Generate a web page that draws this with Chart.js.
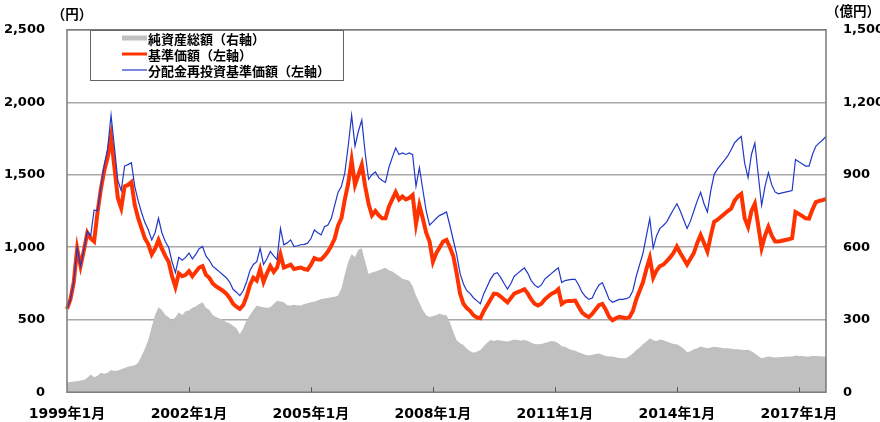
<!DOCTYPE html>
<html lang="ja">
<head>
<meta charset="utf-8">
<script src="https://cdn.jsdelivr.net/npm/chart.js@4.4.1/dist/chart.umd.min.js"></script>
<style>
  body { margin: 0; background: #fff; }
  #wrap { width: 880px; height: 422px; }
</style>
</head>
<body>
<div id="wrap"><canvas id="fund-chart" width="880" height="422"></canvas></div>
<script>
// 月次ラベル 1999年1月 ～ 2017年9月
var startYear = 1999;
var nMonths = 225;
var monthLabels = [];
for (var i = 0; i < nMonths; i++) {
    monthLabels.push((startYear + Math.floor(i / 12)) + '年' + (i % 12 + 1) + '月');
}

// 基準価額（左軸・円）
var navValues = [
    575, 640, 760, 990, 870, 980, 1100, 1060, 1040, 1240, 1400, 1530,      // 1999
    1620, 1760, 1550, 1340, 1270, 1420, 1430, 1450, 1290, 1200, 1130, 1060, // 2000
    1020, 950, 990, 1050, 990, 940, 900, 800, 725, 820, 800, 810,          // 2001
    835, 800, 830, 860, 870, 810, 790, 750, 730, 715, 700, 680,            // 2002
    650, 610, 590, 575, 600, 660, 740, 790, 770, 850, 760, 820,            // 2003
    870, 830, 860, 950, 860, 870, 880, 850, 855, 860, 850, 845,            // 2004
    880, 925, 915, 915, 940, 970, 1010, 1060, 1150, 1200, 1330, 1440,      // 2005
    1600, 1430, 1500, 1570, 1420, 1300, 1220, 1250, 1220, 1200, 1200, 1280, // 2006
    1330, 1380, 1330, 1350, 1330, 1340, 1360, 1160, 1290, 1200, 1100, 1040, // 2007
    900, 960, 1000, 1040, 1051, 1000, 940, 820, 680, 610, 580, 560,        // 2008
    530, 515, 510, 560, 600, 640, 680, 677, 660, 640, 620, 650,            // 2009
    680, 690, 700, 711, 680, 640, 610, 598, 610, 640, 660, 680,            // 2010
    690, 711, 609, 625, 630, 630, 632, 590, 550, 530, 518, 540,            // 2011
    570, 600, 609, 570, 520, 496, 510, 520, 515, 510, 518, 560,            // 2012
    640, 700, 760, 850, 926, 790, 840, 870, 880, 904, 930, 960,            // 2013
    1005, 960, 920, 881, 920, 960, 1030, 1085, 1030, 971, 1080, 1175,      // 2014
    1190, 1210, 1230, 1250, 1266, 1320, 1350, 1368, 1200, 1141, 1250, 1300, // 2015
    1150, 994, 1080, 1141, 1080, 1040, 1039, 1045, 1050, 1055, 1062, 1243, // 2016
    1230, 1215, 1200, 1198, 1260, 1311, 1320, 1325, 1334                   // 2017
];

// 分配金再投資基準価額（左軸・円）
var reinvValues = [
    575, 640, 760, 995, 870, 985, 1110, 1080, 1257, 1250, 1420, 1570,      // 1999
    1680, 1911, 1690, 1460, 1390, 1560, 1570, 1583, 1420, 1320, 1240, 1170, // 2000
    1120, 1050, 1100, 1200, 1100, 1040, 1000, 900, 824, 930, 910, 930,     // 2001
    960, 920, 950, 990, 1005, 940, 910, 870, 850, 830, 810, 790,           // 2002
    760, 710, 690, 666, 700, 760, 840, 881, 900, 994, 881, 920,            // 2003
    971, 940, 915, 1130, 1017, 1030, 1051, 1005, 1010, 1017, 1020, 1028,   // 2004
    1060, 1119, 1100, 1085, 1141, 1153, 1198, 1289, 1380, 1420, 1515, 1700, // 2005
    1911, 1698, 1800, 1877, 1650, 1469, 1500, 1520, 1480, 1460, 1447, 1550, // 2006
    1620, 1685, 1640, 1650, 1640, 1650, 1639, 1420, 1549, 1400, 1250, 1153, // 2007
    1175, 1200, 1220, 1230, 1243, 1150, 1050, 950, 820, 747, 700, 680,     // 2008
    650, 630, 611, 680, 730, 780, 815, 824, 790, 750, 711, 750,            // 2009
    800, 820, 840, 858, 820, 770, 740, 722, 740, 780, 800, 820,            // 2010
    840, 858, 756, 770, 775, 778, 779, 740, 690, 660, 640, 650,            // 2011
    700, 740, 756, 700, 640, 620, 630, 640, 640, 645, 654, 700,            // 2012
    800, 880, 960, 1080, 1198, 994, 1080, 1130, 1150, 1175, 1220, 1260,    // 2013
    1300, 1250, 1190, 1130, 1180, 1250, 1320, 1379, 1300, 1243, 1390, 1503, // 2014
    1540, 1570, 1600, 1630, 1673, 1720, 1745, 1764, 1580, 1481, 1640, 1719, // 2015
    1500, 1289, 1420, 1515, 1430, 1380, 1368, 1375, 1380, 1385, 1391, 1605, // 2016
    1590, 1575, 1560, 1560, 1640, 1696, 1720, 1740, 1764                   // 2017
];

// 純資産総額（右軸・億円）
var assetValues = [
    40, 42, 44, 45, 48, 50, 60, 73, 62, 68, 81, 76,              // 1999
    80, 92, 88, 90, 95, 100, 105, 108, 112, 122, 150, 180,       // 2000
    216, 270, 320, 352, 340, 320, 310, 298, 310, 330, 320, 335,  // 2001
    338, 350, 355, 365, 372, 350, 340, 320, 311, 305, 300, 290,  // 2002
    285, 275, 265, 240, 265, 298, 320, 340, 359, 355, 352, 350,  // 2003
    352, 365, 379, 375, 372, 360, 359, 362, 360, 359, 365, 368,  // 2004
    372, 375, 380, 386, 388, 390, 393, 395, 400, 430, 488, 540,  // 2005
    571, 560, 590, 596, 540, 489, 495, 500, 505, 510, 515, 505,  // 2006
    500, 490, 480, 470, 465, 461, 440, 400, 370, 340, 320, 311,  // 2007
    315, 320, 326, 320, 318, 290, 250, 215, 203, 195, 180, 170,  // 2008
    163, 168, 175, 190, 205, 216, 212, 216, 214, 212, 210, 214,  // 2009
    218, 216, 214, 216, 212, 205, 200, 198, 200, 204, 208, 212,  // 2010
    210, 203, 190, 188, 180, 175, 172, 165, 160, 155, 152, 155,  // 2011
    158, 160, 155, 150, 148, 148, 145, 142, 141, 141, 150, 160,  // 2012
    175, 185, 200, 210, 223, 215, 212, 218, 215, 210, 205, 200,  // 2013
    198, 190, 180, 165, 170, 178, 182, 189, 185, 182, 185, 188,  // 2014
    186, 184, 182, 182, 180, 178, 178, 176, 175, 176, 170, 160,  // 2015
    150, 141, 145, 148, 146, 144, 145, 146, 147, 148, 148, 152,  // 2016
    150, 150, 148, 148, 150, 150, 149, 148, 148                  // 2017
];

// 軸の目盛り
var leftTicks = [0, 500, 1000, 1500, 2000, 2500];
var rightTicks = [0, 300, 600, 900, 1200, 1500];
var tickEvery = 36; // 3年ごと

var fontFamily = "'DejaVu Sans', 'Noto Sans CJK JP', sans-serif";
var cjkFamily = "'Noto Sans CJK JP', sans-serif";

// 凡例・枠・単位を描くプラグイン
var extrasPlugin = {
    id: 'extras',
    afterDraw: function(chart) {
        var ctx = chart.ctx;
        var a = chart.chartArea;
        var xs = chart.scales.x;
        ctx.save();

        // 枠
        ctx.strokeStyle = '#7a7a7a';
        ctx.lineWidth = 1.5;
        ctx.strokeRect(a.left, a.top, a.right - a.left, a.bottom - a.top);

        // x軸の目盛り（内向き）
        ctx.strokeStyle = '#555';
        ctx.lineWidth = 1;
        for (var i = tickEvery; i < monthLabels.length; i += tickEvery) {
            var px = Math.round(xs.getPixelForValue(i)) + 0.5;
            ctx.beginPath();
            ctx.moveTo(px, a.bottom - 5);
            ctx.lineTo(px, a.bottom);
            ctx.stroke();
        }

        // 単位
        ctx.fillStyle = '#000';
        ctx.font = 'bold 13.5px ' + cjkFamily;
        ctx.textBaseline = 'middle';
        ctx.textAlign = 'center';
        ctx.fillText('（円）', 72, 14);
        ctx.fillText('（億円）', 853, 11);

        // 凡例
        var bx = 90, by = 30, bw = 253, bh = 50;
        ctx.fillStyle = '#fff';
        ctx.fillRect(bx, by, bw, bh);
        ctx.strokeStyle = '#666';
        ctx.lineWidth = 1;
        ctx.strokeRect(bx + 0.5, by + 0.5, bw, bh);

        var items = [
            { text: '純資産総額（右軸）', color: '#c0c0c0', width: 5, y: 38 },
            { text: '基準価額（左軸）', color: '#ff3300', width: 3, y: 54 },
            { text: '分配金再投資基準価額（左軸）', color: '#2038c8', width: 1.2, y: 70 }
        ];
        ctx.textAlign = 'left';
        ctx.font = 'bold 13px ' + cjkFamily;
        items.forEach(function(it) {
            ctx.strokeStyle = it.color;
            ctx.lineWidth = it.width;
            ctx.beginPath();
            ctx.moveTo(122, it.y);
            ctx.lineTo(147, it.y);
            ctx.stroke();
            ctx.fillStyle = '#000';
            ctx.fillText(it.text, 148, it.y + 1);
        });

        ctx.restore();
    }
};

var ctx = document.getElementById('fund-chart').getContext('2d');

var fundChart = new Chart(ctx, {
    type: 'line',
    data: {
        labels: monthLabels,
        datasets: [{
            label: '純資産総額(右軸)',
            data: assetValues,
            yAxisID: 'y2',
            borderWidth: 0,
            borderColor: 'rgba(0,0,0,0)',
            backgroundColor: '#c0c0c0',
            fill: 'origin',
            pointRadius: 0,
            tension: 0,
            order: 3
        }, {
            label: '基準価額(左軸)',
            data: navValues,
            yAxisID: 'y',
            borderColor: '#ff3300',
            borderWidth: 4,
            fill: false,
            pointRadius: 0,
            tension: 0,
            order: 2
        }, {
            label: '分配金再投資基準価額(左軸)',
            data: reinvValues,
            yAxisID: 'y',
            borderColor: '#2038c8',
            borderWidth: 1.2,
            fill: false,
            pointRadius: 0,
            tension: 0,
            order: 1
        }]
    },
    options: {
        responsive: false,
        animation: false,
        layout: { padding: { top: 25, left: 0, right: 0, bottom: 0 } },
        plugins: {
            legend: { display: false },
            tooltip: { enabled: false }
        },
        scales: {
            x: {
                type: 'category',
                offset: false,
                grid: { display: false },
                border: { display: false },
                ticks: {
                    autoSkip: false,
                    maxRotation: 0,
                    minRotation: 0,
                    padding: 6,
                    color: '#000',
                    font: { family: fontFamily, size: 14, weight: 'bold' },
                    callback: function(value, index) {
                        return index % tickEvery === 0 ? monthLabels[index] : '';
                    }
                },
                afterFit: function(scale) { scale.height = 29; }
            },
            y: {
                position: 'left',
                min: leftTicks[0],
                max: leftTicks[leftTicks.length - 1],
                afterBuildTicks: function(scale) {
                    scale.ticks = leftTicks.map(function(v) { return { value: v }; });
                },
                grid: { color: '#a8a8a8', lineWidth: 1.5, drawTicks: false },
                border: { display: false },
                ticks: {
                    padding: 22,
                    color: '#000',
                    font: { family: fontFamily, size: 13, weight: 'bold' },
                    callback: function(v) { return v.toLocaleString('en-US'); }
                },
                afterFit: function(scale) { scale.width = 67; }
            },
            y2: {
                position: 'right',
                min: rightTicks[0],
                max: rightTicks[rightTicks.length - 1],
                afterBuildTicks: function(scale) {
                    scale.ticks = rightTicks.map(function(v) { return { value: v }; });
                },
                grid: { drawOnChartArea: false, drawTicks: false },
                border: { display: false },
                ticks: {
                    padding: 17,
                    color: '#000',
                    font: { family: fontFamily, size: 13, weight: 'bold' },
                    callback: function(v) { return v.toLocaleString('en-US'); }
                },
                afterFit: function(scale) { scale.width = 54; }
            }
        }
    },
    plugins: [extrasPlugin]
});
</script>
</body>
</html>
